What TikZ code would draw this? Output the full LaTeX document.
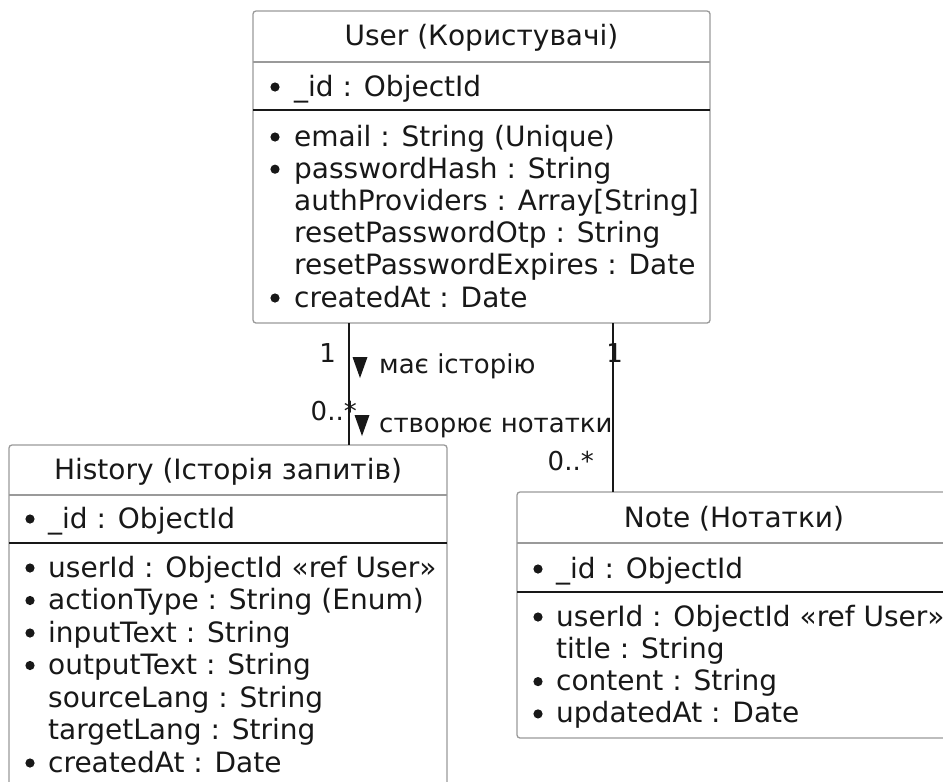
\documentclass[tikz,border=0pt]{standalone}
\usepackage{fontspec}
\setmainfont{DejaVu Sans}
\definecolor{ink}{HTML}{181818}
\definecolor{frame}{HTML}{9A9A9A}
\tikzset{
  classbox/.style={draw=frame, line width=1.3pt, rounded corners=3pt, inner sep=0pt, outer sep=0pt, fill=white},
  headrule/.style={draw=frame, line width=1.3pt},
  fieldrule/.style={draw=ink, line width=1.5pt},
  conn/.style={draw=ink, line width=1.3pt},
  ctitle/.style={anchor=base, inner sep=0pt, text=ink, font=\fontsize{28}{32}\selectfont},
  field/.style={anchor=base west, inner sep=0pt, text=ink, font=\fontsize{28}{32}\selectfont},
  elabel/.style={anchor=base west, inner sep=0pt, text=ink, font=\fontsize{26}{30}\selectfont},
  mult/.style={anchor=base east, inner sep=0pt, text=ink, font=\fontsize{26}{30}\selectfont},
  dot/.style={fill=ink},
}
\begin{document}
\begin{tikzpicture}[x=1pt,y=-1pt]
\useasboundingbox (0,0) rectangle (943,782);
\clip (0,0) rectangle (943,782);

% ---------- User ----------
\node[classbox, minimum width=457pt, minimum height=312pt] (user) at (481.5,167) {};
\draw[headrule] (253,62) -- (710,62);
\draw[fieldrule] (253,110) -- (710,110);
\node[ctitle] (userT) at (481.5,45) {User (Користувачі)};
\node[field] (userA0) at (294,96) {\_id : ObjectId};
\node[field] (userA1) at (294,146) {email : String (Unique)};
\node[field] (userA2) at (294,178.2) {passwordHash : String};
\node[field] (userA3) at (294,210.4) {authProviders : Array[String]};
\node[field] (userA4) at (294,242.6) {resetPasswordOtp : String};
\node[field] (userA5) at (294,274.8) {resetPasswordExpires : Date};
\node[field] (userA6) at (294,307) {createdAt : Date};
\foreach \yy in {96,146,178.2,307} \fill[dot] (275,\yy-9) circle [radius=4.6pt];

% ---------- History ----------
\node[classbox, minimum width=438pt, minimum height=350pt] (history) at (228,620) {};
\draw[headrule] (9,495) -- (447,495);
\draw[fieldrule] (9,543) -- (447,543);
\node[ctitle] (histT) at (228,479) {History (Історія запитів)};
\node[field] (histA0) at (48,528) {\_id : ObjectId};
\node[field] (histA1) at (48,577) {userId : ObjectId «ref User»};
\node[field] (histA2) at (48,609.5) {actionType : String (Enum)};
\node[field] (histA3) at (48,642) {inputText : String};
\node[field] (histA4) at (48,674.5) {outputText : String};
\node[field] (histA5) at (48,707) {sourceLang : String};
\node[field] (histA6) at (48,739.5) {targetLang : String};
\node[field] (histA7) at (48,772) {createdAt : Date};
\foreach \yy in {528,577,609.5,642,674.5,772} \fill[dot] (30,\yy-9) circle [radius=4.6pt];

% ---------- Note ----------
\node[classbox, minimum width=434pt, minimum height=246pt] (note) at (734,615) {};
\draw[headrule] (517,543) -- (951,543);
\draw[fieldrule] (517,592) -- (951,592);
\node[ctitle] (noteT) at (734,527) {Note (Нотатки)};
\node[field] (noteA0) at (556,578) {\_id : ObjectId};
\node[field] (noteA1) at (556,626) {userId : ObjectId «ref User»};
\node[field] (noteA2) at (556,658.3) {title : String};
\node[field] (noteA3) at (556,690.6) {content : String};
\node[field] (noteA4) at (556,722.9) {updatedAt : Date};
\foreach \yy in {578,626,690.6,722.9} \fill[dot] (538,\yy-9) circle [radius=4.6pt];

% ---------- Associations ----------
\coordinate (histX) at (349,0);
\coordinate (noteX) at (613,0);
\draw[conn] (user.south -| histX) -- (history.north -| histX);
\draw[conn] (user.south -| noteX) -- (note.north -| noteX);

\node[mult] (m1) at (336,362) {1};
\node[mult] (m2) at (357,420) {0..*};
\node[mult] (m3) at (623,362) {1};
\node[mult] (m4) at (594,470) {0..*};

\fill[ink] (352.5,357) -- (367.5,357) -- (360,378) -- cycle;
\node[elabel] (lab1) at (379,373) {має історію};
\fill[ink] (354.5,415) -- (369.5,415) -- (362,436) -- cycle;
\node[elabel] (lab2) at (379,432) {створює нотатки};
\end{tikzpicture}
\end{document}
